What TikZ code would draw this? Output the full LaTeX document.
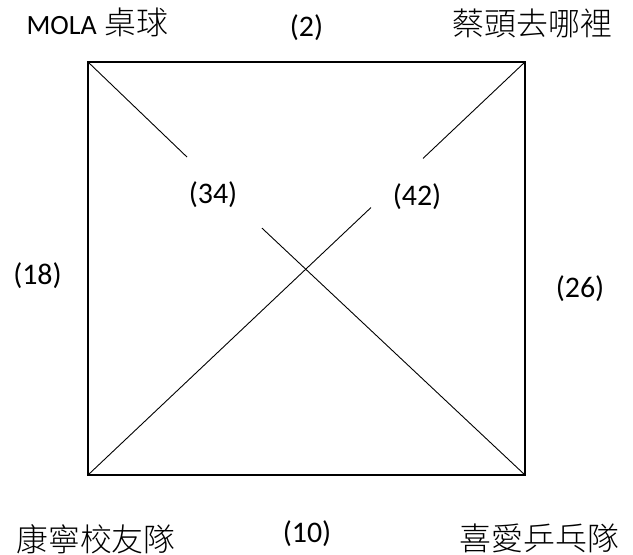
\documentclass[tikz,border=0pt]{standalone}
\usepackage{fontspec}
\setmainfont{Carlito}
\newfontfamily\cjk{Noto Sans CJK TC Light}
\usetikzlibrary{positioning}

\begin{document}
\begin{tikzpicture}[x=1bp,y=-1bp]
\tikzstyle{lbl}=[inner sep=0pt,font=\fontsize{30}{33}\selectfont]
\tikzstyle{team}=[inner sep=0pt,font=\fontsize{32}{35}\cjk]
\tikzstyle{gap}=[inner sep=0pt,outer sep=0pt]
\useasboundingbox (0,0) rectangle (633,555);
% corners of the square
\coordinate (tl) at (88,62);
\coordinate (tr) at (525,62);
\coordinate (bl) at (88,475);
\coordinate (br) at (525,475);
\draw[line width=2bp] (tl) rectangle (br);
% gaps in the diagonals
\node[gap,minimum width=75bp,minimum height=74bp] (g34) at (224.5,193) {};
\node[gap,minimum width=52bp,minimum height=50bp] (g42) at (397,183) {};
\draw[line width=0.9bp] (tl) -- (g34) (g34) -- (br);
\draw[line width=0.9bp] (tr) -- (g42) (g42) -- (bl);
% team names
\node[team] (mola) at (97.5,22.5) {{\rmfamily\fontsize{28}{30}\selectfont MOLA}\hspace{8bp}桌球};
\node[team] (cai) at (532.5,23) {蔡頭去哪裡};
\node[team] (kang) at (96,539) {康寧校友隊};
\node[team] (xi) at (539.5,538.5) {喜愛乒乓隊};
% scores
\node[lbl] (s2) at (306.5,27.5) {(2)};
\node[lbl] (s10) at (307,534) {(10)};
\node[lbl] (s18) at (37.5,276) {(18)};
\node[lbl] (s26) at (580,288.5) {(26)};
\node[lbl] (s34) at (213,195) {(34)};
\node[lbl] (s42) at (417,196.5) {(42)};
\end{tikzpicture}
\end{document}
